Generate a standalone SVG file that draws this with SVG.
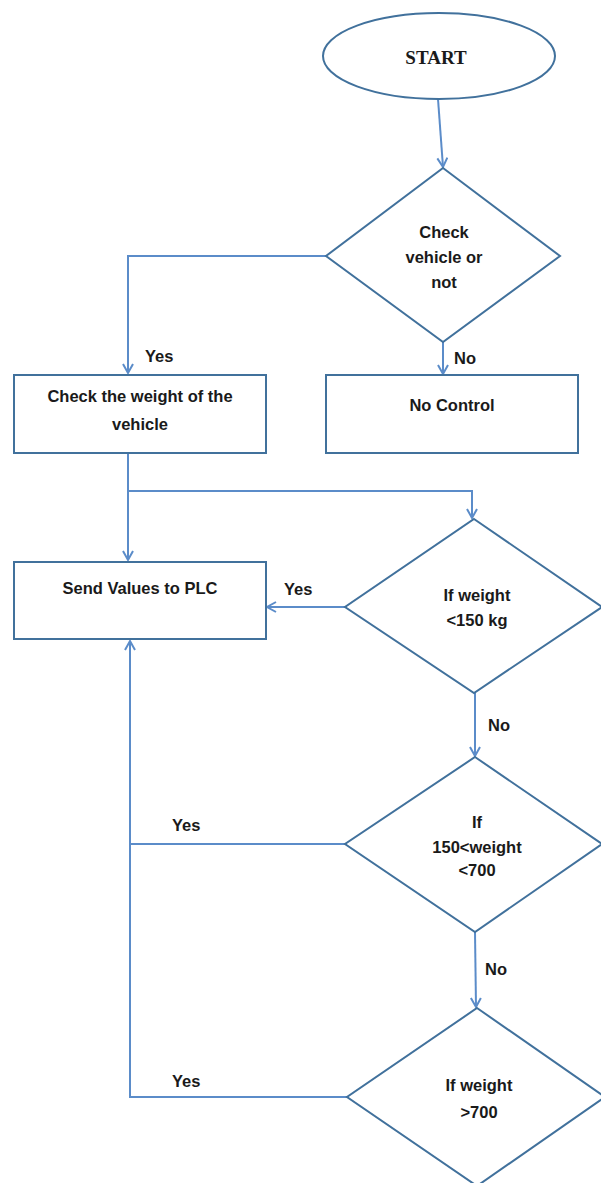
<svg xmlns="http://www.w3.org/2000/svg" width="601" height="1183" viewBox="0 0 601 1183">
<style>
.shape{fill:#fff;stroke:#41719c;stroke-width:2}
.conn{fill:none;stroke:#5b8cc9;stroke-width:2}
.t{font-family:"Liberation Sans",Arial,sans-serif;font-weight:bold;font-size:16.5px;fill:#1a1a1a;text-anchor:middle}
.lbl{font-family:"Liberation Sans",Arial,sans-serif;font-weight:bold;font-size:16.5px;fill:#1a1a1a}
.s{font-family:"Liberation Serif","Times New Roman",serif;font-weight:bold;font-size:19px;fill:#1a1a1a;text-anchor:middle}
</style>
<defs>
<marker id="arr" markerWidth="14" markerHeight="14" refX="10" refY="6" orient="auto" markerUnits="userSpaceOnUse">
<path d="M1,1 L10,6 L1,11" fill="none" stroke="#5b8cc9" stroke-width="2"/>
</marker>
</defs>
<rect width="601" height="1183" fill="#fff"/>
<g id="connectors">
<path class="conn" d="M438,99 L443,167" marker-end="url(#arr)"/>
<path class="conn" d="M326,256 L128,256 L128,373" marker-end="url(#arr)"/>
<path class="conn" d="M443,342 L443,374" marker-end="url(#arr)"/>
<path class="conn" d="M128,453 L128,560" marker-end="url(#arr)"/>
<path class="conn" d="M128,491 L472,491 L472,518" marker-end="url(#arr)"/>
<path class="conn" d="M345,607 L267,607" marker-end="url(#arr)"/>
<path class="conn" d="M475,693 L475,756" marker-end="url(#arr)"/>
<path class="conn" d="M475,932 L476,1007" marker-end="url(#arr)"/>
<path class="conn" d="M345,844 L130,844"/>
<path class="conn" d="M347,1097 L130,1097 L130,641" marker-end="url(#arr)"/>
<text class="lbl" x="145" y="362">Yes</text>
<text class="lbl" x="454" y="364">No</text>
<text class="lbl" x="284" y="595">Yes</text>
<text class="lbl" x="488" y="731">No</text>
<text class="lbl" x="485" y="975">No</text>
<text class="lbl" x="172" y="831">Yes</text>
<text class="lbl" x="172" y="1087">Yes</text>
</g>
<g id="start">
<ellipse class="shape" cx="439" cy="56" rx="116" ry="43"/>
<text class="s" x="436" y="64">START</text>
</g>
<g id="check-vehicle">
<polygon class="shape" points="443,168 560,256 443,342 326,256"/>
<text class="t" x="444" y="238">Check</text>
<text class="t" x="444" y="263">vehicle or</text>
<text class="t" x="444" y="288">not</text>
</g>
<g id="check-weight">
<rect class="shape" x="14" y="375" width="252" height="78"/>
<text class="t" x="140" y="402">Check the weight of the</text>
<text class="t" x="140" y="430">vehicle</text>
</g>
<g id="no-control">
<rect class="shape" x="326" y="375" width="252" height="78"/>
<text class="t" x="452" y="411">No Control</text>
</g>
<g id="send-plc">
<rect class="shape" x="14" y="562" width="252" height="77"/>
<text class="t" x="140" y="594">Send Values to PLC</text>
</g>
<g id="if-lt150">
<polygon class="shape" points="474,519 602,607 474,693 345,607"/>
<text class="t" x="477" y="601">If weight</text>
<text class="t" x="477" y="626">&lt;150 kg</text>
</g>
<g id="if-150-700">
<polygon class="shape" points="475,757 602,844 475,932 345,844"/>
<text class="t" x="477" y="828">If</text>
<text class="t" x="477" y="853">150&lt;weight</text>
<text class="t" x="477" y="876">&lt;700</text>
</g>
<g id="if-gt700">
<polygon class="shape" points="477,1008 605,1097 477,1186 347,1097"/>
<text class="t" x="479" y="1091">If weight</text>
<text class="t" x="479" y="1118">&gt;700</text>
</g>
</svg>
